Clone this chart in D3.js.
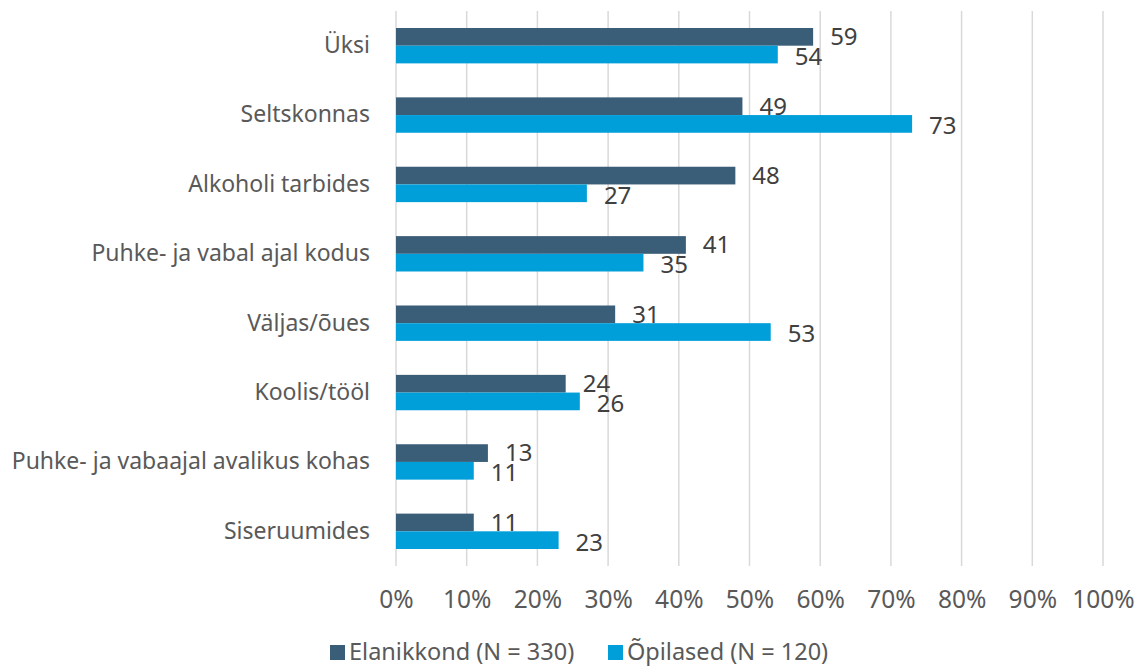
<!DOCTYPE html>
<html>
<head>
<meta charset="utf-8">
<script src="https://cdn.jsdelivr.net/npm/d3@7"></script>
<style>
  body { margin: 0; background: #fff; }
  text { font-family: "Noto Sans", sans-serif; }
</style>
</head>
<body>
<div id="chart"></div>
<script>
var categories = ["Üksi", "Seltskonnas", "Alkoholi tarbides", "Puhke- ja vabal ajal kodus",
  "Väljas/õues", "Koolis/tööl ", "Puhke- ja vabaajal avalikus kohas", "Siseruumides"];
var elanikkond = [59, 49, 48, 41, 31, 24, 13, 11];
var opilased = [54, 73, 27, 35, 53, 26, 11, 23];
var seriesNames = ["Elanikkond (N = 330)", "Õpilased (N = 120)"];
var seriesColors = ["#3a5d78", "#009fda"];
var xTicks = [0, 10, 20, 30, 40, 50, 60, 70, 80, 90, 100];

var W = 1141, H = 666;
var margin = {top: 11, right: 38, bottom: 100, left: 396};

var svg = d3.select("#chart").append("svg")
  .attr("width", W)
  .attr("height", H);

var g = svg.append("g")
  .attr("transform", "translate(" + margin.left + "," + margin.top + ")");

var innerW = W - margin.left - margin.right;
var innerH = H - margin.top - margin.bottom;

var x = d3.scaleLinear().domain([0, 100]).range([0, innerW]);
var y = d3.scaleBand().domain(categories).range([0, innerH]).paddingInner(0.49).paddingOuter(0.245);

// gridlines
g.selectAll("line.grid")
  .data(xTicks)
  .enter().append("line")
  .attr("class", "grid")
  .attr("x1", d => x(d))
  .attr("x2", d => x(d))
  .attr("y1", 0)
  .attr("y2", innerH)
  .attr("stroke", "#d9d9d9")
  .attr("stroke-width", 1.5);

// x axis labels
var xAxis = d3.axisBottom(x).tickValues(xTicks).tickFormat(d => d + "%").tickSize(0).tickPadding(25);
var xg = g.append("g")
  .attr("transform", "translate(0," + innerH + ")")
  .call(xAxis);
xg.select(".domain").remove();
xg.selectAll("text")
  .attr("fill", "#595959")
  .attr("font-size", 24.5)
  .attr("font-family", "Noto Sans");

// y axis labels
var yAxis = d3.axisLeft(y).tickSize(0).tickPadding(26);
var yg = g.append("g").call(yAxis);
yg.select(".domain").remove();
yg.selectAll("text")
  .attr("fill", "#595959")
  .attr("font-size", 23)
  .attr("font-family", "Noto Sans");

var bh = y.bandwidth() / 2;
var series = [elanikkond, opilased];

series.forEach(function(vals, si) {
  var rows = categories.map((c, i) => ({cat: c, v: vals[i]}));
  g.selectAll("rect.s" + si)
    .data(rows)
    .enter().append("rect")
    .attr("class", "s" + si)
    .attr("x", 0)
    .attr("y", d => y(d.cat) + si * bh)
    .attr("width", d => x(d.v))
    .attr("height", bh)
    .attr("fill", seriesColors[si]);
  g.selectAll("text.l" + si)
    .data(rows)
    .enter().append("text")
    .attr("class", "l" + si)
    .attr("x", d => x(d.v) + 17)
    .attr("y", d => y(d.cat) + si * bh + bh / 2 + (si ? 2 : 0))
    .attr("dy", "0.35em")
    .attr("fill", "#404040")
    .attr("font-size", 24)
    .text(d => d.v);
});

// legend
var legendX = [330, 608];
var legend = svg.append("g");
seriesNames.forEach(function(n, i) {
  legend.append("rect")
    .attr("x", legendX[i])
    .attr("y", 645)
    .attr("width", 15)
    .attr("height", 15)
    .attr("fill", seriesColors[i]);
  legend.append("text")
    .attr("x", legendX[i] + 19)
    .attr("y", 652)
    .attr("dy", "0.35em")
    .attr("fill", "#595959")
    .attr("font-size", 23.5)
    .text(n);
});
</script>
</body>
</html>
